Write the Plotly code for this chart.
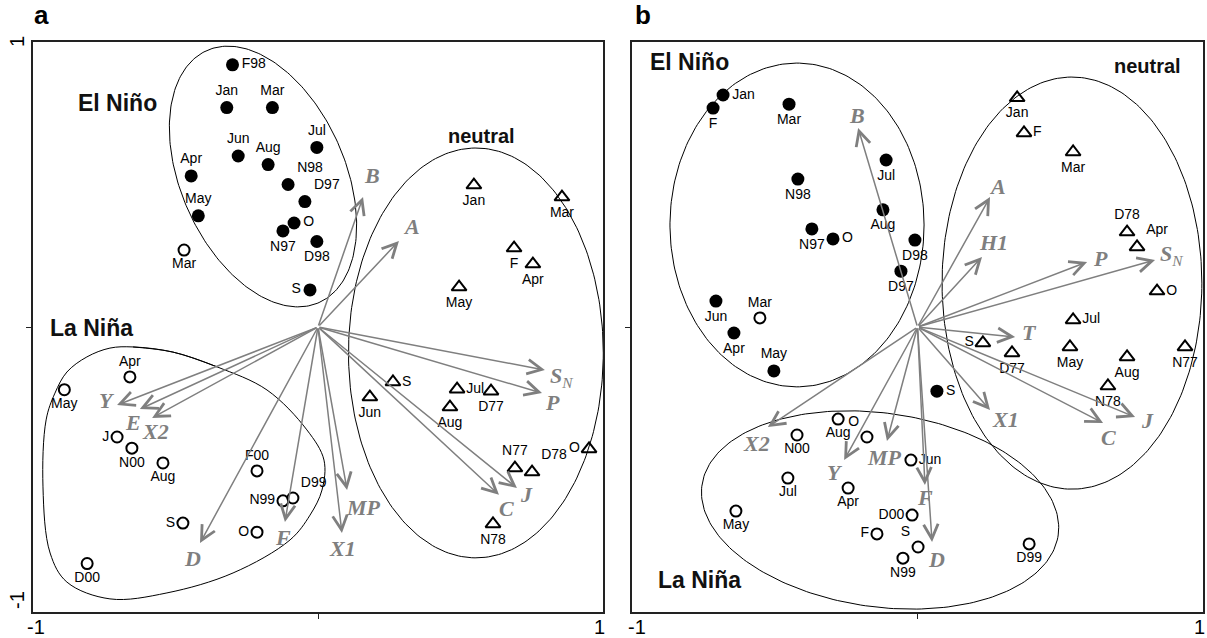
import numpy as np
import plotly.graph_objects as go

# ================= Panel a =================
a_nino_lab = ["F98", "Jan", "Mar", "Jun", "Aug", "Apr", "N98", "D97", "May", "O", "N97", "D98", "S", "Jul"]
a_nino_x = [-0.30, -0.32, -0.16, -0.28, -0.175, -0.445, -0.105, -0.046, -0.42, -0.084, -0.123, -0.004, -0.028, -0.004]
a_nino_y = [0.92, 0.77, 0.77, 0.60, 0.57, 0.53, 0.50, 0.44, 0.39, 0.365, 0.337, 0.30, 0.13, 0.63]
a_nino_pos = ["middle right", "top center", "top center", "top center", "top center", "top center", "top right",
              "top right", "top center", "middle right", "bottom center", "bottom center", "middle left", "top center"]

a_nina_lab = ["Mar", "Apr", "May", "J", "N00", "Aug", "F00", "N99", "D99", "S", "O", "D00"]
a_nina_x = [-0.47, -0.66, -0.89, -0.705, -0.653, -0.544, -0.214, -0.123, -0.088, -0.474, -0.214, -0.81]
a_nina_y = [0.27, -0.175, -0.22, -0.386, -0.425, -0.477, -0.505, -0.61, -0.60, -0.688, -0.72, -0.83]
a_nina_pos = ["bottom center", "top center", "bottom center", "middle left", "bottom center", "bottom center",
              "top center", "middle left", "top right", "middle left", "middle left", "bottom center"]

a_neu_lab = ["Jan", "Mar", "F", "Apr", "May", "S", "Jun", "Jul", "D77", "Aug", "N77", "D78", "O", "N78"]
a_neu_x = [0.547, 0.856, 0.688, 0.754, 0.495, 0.263, 0.182, 0.488, 0.607, 0.463, 0.691, 0.751, 0.951, 0.614]
a_neu_y = [0.498, 0.456, 0.277, 0.221, 0.14, -0.193, -0.246, -0.218, -0.225, -0.281, -0.495, -0.509, -0.428, -0.691]
a_neu_pos = ["bottom center", "bottom center", "bottom center", "bottom center", "bottom center", "middle right",
             "bottom center", "middle right", "bottom center", "bottom center", "top center", "top right",
             "middle left", "bottom center"]

a_vec_lab = ["B", "A", "SN", "P", "J", "C", "MP", "X1", "F", "D", "Y", "E", "X2"]
a_vec_x = [0.158, 0.284, 0.796, 0.786, 0.698, 0.635, 0.102, 0.084, -0.116, -0.414, -0.705, -0.625, -0.582]
a_vec_y = [0.456, 0.302, -0.151, -0.232, -0.565, -0.589, -0.572, -0.723, -0.684, -0.758, -0.274, -0.288, -0.319]

# La Niña outline (panel a), data units
a_nina_hull_x = [-0.649, -0.509, -0.354, -0.179, -0.039, 0.021, 0.014, -0.028, -0.098, -0.298, -0.530, -0.730,
                 -0.881, -0.940, -0.965, -0.954, -0.923, -0.881, -0.811, -0.730]
a_nina_hull_y = [-0.070, -0.088, -0.140, -0.221, -0.361, -0.467, -0.572, -0.660, -0.747, -0.863, -0.933, -0.954,
                 -0.895, -0.793, -0.561, -0.326, -0.232, -0.158, -0.105, -0.074]

# ================= Panel b =================
b_nino_lab = ["Jan", "F", "Mar", "Jul", "N98", "Aug", "N97", "O", "D98", "D97", "Jun", "Apr", "May", "S"]
b_nino_x = [-0.681, -0.716, -0.45, -0.11, -0.419, -0.121, -0.37, -0.296, -0.009, -0.058, -0.706, -0.643, -0.503, 0.068]
b_nino_y = [0.814, 0.768, 0.782, 0.586, 0.519, 0.411, 0.344, 0.309, 0.305, 0.196, 0.091, -0.021, -0.154, -0.225]
b_nino_pos = ["middle right", "bottom center", "bottom center", "bottom center", "bottom center", "bottom center",
              "bottom center", "middle right", "bottom center", "bottom center", "bottom center", "bottom center",
              "top center", "middle right"]

b_nina_lab = ["Mar", "Aug", "O", "N00", "Jun", "Jul", "Apr", "May", "D00", "F", "S", "N99", "D99"]
b_nina_x = [-0.552, -0.278, -0.177, -0.422, -0.023, -0.454, -0.243, -0.636, -0.019, -0.142, 0.002, -0.051, 0.391]
b_nina_y = [0.032, -0.323, -0.386, -0.379, -0.467, -0.53, -0.565, -0.646, -0.66, -0.726, -0.772, -0.811, -0.761]
b_nina_pos = ["top center", "bottom center", "top left", "bottom center", "middle right", "bottom center",
              "bottom center", "bottom center", "middle left", "middle left", "top left", "bottom center",
              "bottom center"]

b_neu_lab = ["Jan", "F", "Mar", "D78", "Apr", "O", "Jul", "S", "D77", "May", "Aug", "N77", "N78"]
b_neu_x = [0.349, 0.373, 0.545, 0.734, 0.769, 0.839, 0.545, 0.229, 0.331, 0.534, 0.734, 0.937, 0.667]
b_neu_y = [0.804, 0.681, 0.614, 0.333, 0.281, 0.126, 0.025, -0.056, -0.091, -0.07, -0.105, -0.07, -0.207]
b_neu_pos = ["bottom center", "middle right", "bottom center", "top center", "top right", "middle right",
             "middle right", "middle left", "bottom center", "bottom center", "bottom center", "bottom center",
             "bottom center"]

b_vec_lab = ["B", "A", "H1", "P", "SN", "T", "X1", "C", "J", "F", "D", "MP", "Y", "X2"]
b_vec_x = [-0.208, 0.254, 0.226, 0.594, 0.832, 0.342, 0.254, 0.65, 0.762, 0.026, 0.051, -0.107, -0.257, -0.524]
b_vec_y = [0.698, 0.456, 0.246, 0.228, 0.235, -0.035, -0.291, -0.337, -0.316, -0.554, -0.754, -0.4, -0.467, -0.351]

# ---------- styling / placement (not data) ----------
a_vec_shift = {"B": (9, 22), "A": (13, 14), "SN": (17, -7), "P": (10, -9), "J": (10, -6), "C": (8, -14),
               "MP": (16, -17), "X1": (1, -15), "F": (-2, -16), "D": (-8, -15), "Y": (-10, 5), "E": (-7, -13),
               "X2": (3, -14)}
b_vec_shift = {"B": (-1, 13), "A": (7, 11), "H1": (11, 14), "P": (13, 4), "SN": (16, 5), "T": (14, 4),
               "X1": (15, -10), "C": (5, -14), "J": (12, -3), "F": (0, -13), "D": (4, -18), "MP": (-2, -16),
               "Y": (-9, -12), "X2": (-11, -16)}

GRAY = "#7f7f7f"
LBL_FONT = dict(family="Arial, Liberation Sans, sans-serif", size=14, color="black")


def ellipse(cx, cy, a, b, deg, n=240):
    t = np.linspace(0, 2 * np.pi, n)
    th = np.deg2rad(deg)
    x = cx + a * np.cos(t) * np.cos(th) - b * np.sin(t) * np.sin(th)
    y = cy + a * np.cos(t) * np.sin(th) + b * np.sin(t) * np.cos(th)
    return x, y


fig = go.Figure()


def add_outline(x, y, xa, ya, spline=False):
    fig.add_trace(go.Scatter(x=list(x), y=list(y), xaxis=xa, yaxis=ya, mode="lines",
                             line=dict(color="black", width=1, shape="spline" if spline else "linear",
                                       smoothing=1.0),
                             hoverinfo="skip", showlegend=False))


# Outlines panel a
ex, ey = ellipse(-0.193, 0.528, 0.484, 0.288, -66)
add_outline(ex, ey, "x", "y")
ex, ey = ellipse(0.554, -0.091, 0.447, 0.719, 0)
add_outline(ex, ey, "x", "y")
hx = a_nina_hull_x + a_nina_hull_x[:3]
hy = a_nina_hull_y + a_nina_hull_y[:3]
add_outline(hx, hy, "x", "y", spline=True)

# Outlines panel b
ex, ey = ellipse(-0.422, 0.358, 0.445, 0.568, 0)
add_outline(ex, ey, "x2", "y2")
ex, ey = ellipse(0.541, 0.154, 0.455, 0.723, 0)
add_outline(ex, ey, "x2", "y2")
ex, ey = ellipse(-0.131, -0.642, 0.63, 0.34, -8)
add_outline(ex, ey, "x2", "y2")


def add_pts(x, y, lab, pos, kind, xa, ya):
    if kind == "nino":
        marker = dict(symbol="circle", size=13, color="black")
    elif kind == "nina":
        marker = dict(symbol="circle-open", size=11, color="black", line=dict(width=2, color="black"))
    else:
        marker = dict(symbol="triangle-up-open", size=13, color="black", line=dict(width=2, color="black"))
    fig.add_trace(go.Scatter(x=x, y=y, text=lab, textposition=pos, mode="markers+text",
                             marker=marker, textfont=LBL_FONT, xaxis=xa, yaxis=ya,
                             hoverinfo="skip", showlegend=False, cliponaxis=False))


add_pts(a_nino_x, a_nino_y, a_nino_lab, a_nino_pos, "nino", "x", "y")
add_pts(a_nina_x, a_nina_y, a_nina_lab, a_nina_pos, "nina", "x", "y")
add_pts(a_neu_x, a_neu_y, a_neu_lab, a_neu_pos, "neu", "x", "y")
add_pts(b_nino_x, b_nino_y, b_nino_lab, b_nino_pos, "nino", "x2", "y2")
add_pts(b_nina_x, b_nina_y, b_nina_lab, b_nina_pos, "nina", "x2", "y2")
add_pts(b_neu_x, b_neu_y, b_neu_lab, b_neu_pos, "neu", "x2", "y2")

anns = []


def vec_text(name):
    if name == "SN":
        return "<b><i>S</i></b><sub><i>N</i></sub>"
    return "<b><i>%s</i></b>" % name


def add_vectors(vx, vy, names, shifts, xr, yr):
    for x, y, nm in zip(vx, vy, names):
        anns.append(dict(x=x, y=y, ax=0, ay=0, xref=xr, yref=yr, axref=xr, ayref=yr, text="",
                         showarrow=True, arrowhead=5, arrowsize=1.9, arrowwidth=1.5, arrowcolor=GRAY,
                         standoff=0, startstandoff=0))
        dx, dy = shifts[nm]
        anns.append(dict(x=x, y=y, xref=xr, yref=yr, text=vec_text(nm), showarrow=False,
                         xshift=dx, yshift=dy, xanchor="center", yanchor="middle",
                         font=dict(family="Times New Roman, Liberation Serif, serif", size=22, color=GRAY)))


add_vectors(a_vec_x, a_vec_y, a_vec_lab, a_vec_shift, "x", "y")
add_vectors(b_vec_x, b_vec_y, b_vec_lab, b_vec_shift, "x2", "y2")

BOLD = "Arial, Liberation Sans, sans-serif"
group_labels = [("El Niño", -0.705, 0.786, "x", "y", 23), ("La Niña", -0.793, -0.004, "x", "y", 23),
                ("neutral", 0.572, 0.67, "x", "y", 20), ("El Niño", -0.797, 0.93, "x2", "y2", 23),
                ("neutral", 0.804, 0.916, "x2", "y2", 20), ("La Niña", -0.762, -0.888, "x2", "y2", 23)]
for t, x, y, xr, yr, s in group_labels:
    anns.append(dict(x=x, y=y, xref=xr, yref=yr, text="<b>%s</b>" % t, showarrow=False,
                     xanchor="center", yanchor="middle",
                     font=dict(family=BOLD, size=s, color="#111111")))

W, H = 1207, 638
for t, px, py in [("a", 41, 15), ("b", 643, 15)]:
    anns.append(dict(x=px / W, y=1 - py / H, xref="paper", yref="paper", text="<b>%s</b>" % t,
                     showarrow=False, xanchor="center", yanchor="middle",
                     font=dict(family=BOLD, size=26, color="black")))
for t, px, py in [("-1", 36, 627), ("1", 599, 627), ("-1", 637, 627), ("1", 1199, 627)]:
    anns.append(dict(x=px / W, y=1 - py / H, xref="paper", yref="paper", text=t, showarrow=False,
                     xanchor="center", yanchor="middle",
                     font=dict(family=BOLD, size=20, color="black")))
for t, px, py in [("1", 17, 42), ("-1", 17, 600)]:
    anns.append(dict(x=px / W, y=1 - py / H, xref="paper", yref="paper", text=t, showarrow=False,
                     xanchor="center", yanchor="middle",
                     textangle=-90, font=dict(family=BOLD, size=20, color="black")))

ax_common = dict(range=[-1, 1], showgrid=False, zeroline=False, showline=True, mirror=True,
                 linecolor="#222222", linewidth=1.5, ticks="outside", ticklen=5, tickwidth=1.2,
                 tickcolor="#222222", tickvals=[0], ticktext=[""], fixedrange=True)
ydom = [1 - 612 / H, 1 - 42 / H]
fig.update_layout(
    width=W, height=H, margin=dict(l=0, r=0, t=0, b=0),
    paper_bgcolor="white", plot_bgcolor="white",
    xaxis=dict(domain=[33 / W, 603 / W], anchor="y", **ax_common),
    yaxis=dict(domain=ydom, anchor="x", **ax_common),
    xaxis2=dict(domain=[632 / W, 1203 / W], anchor="y2", **ax_common),
    yaxis2=dict(domain=ydom, anchor="x2", **ax_common),
    annotations=anns,
    showlegend=False,
)

fig.write_html("out.html", config={"displayModeBar": False},
               post_script="document.body.style.margin='0px';document.body.style.overflow='hidden';")
